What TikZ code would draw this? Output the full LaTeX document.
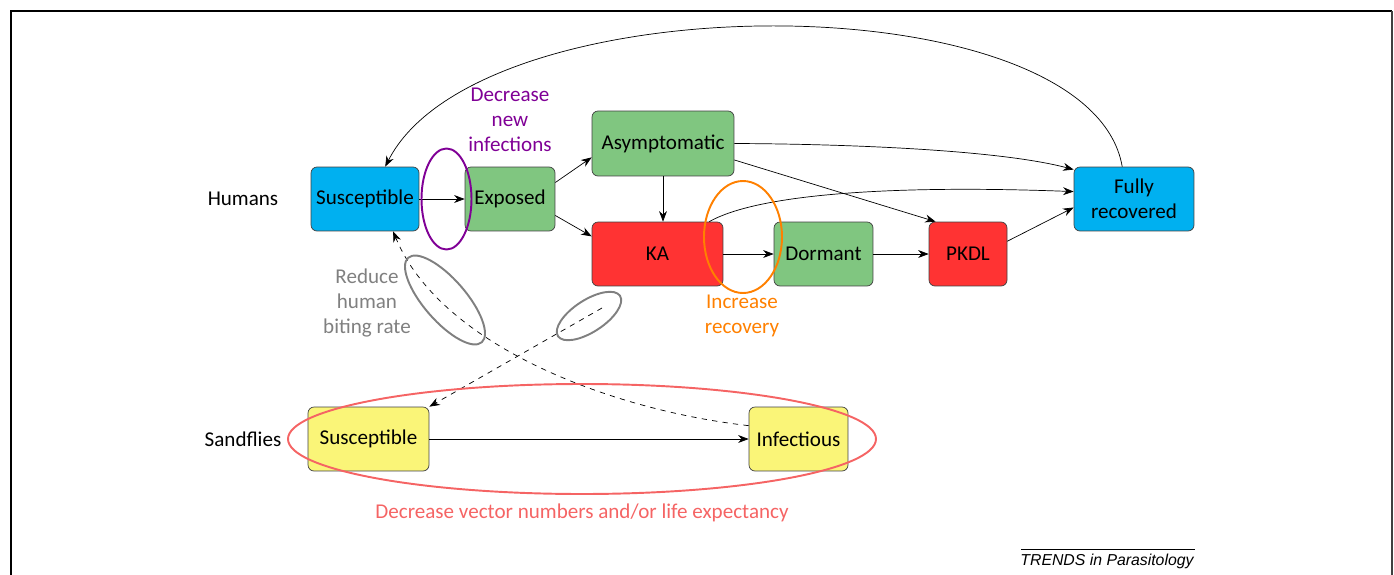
\documentclass[tikz,border=0pt]{standalone}
\usepackage{fontspec}
\setmainfont{Carlito}
\newfontfamily\journalfont{Liberation Sans}
\usetikzlibrary{arrows.meta}
\definecolor{humanblue}{RGB}{0,176,240}
\definecolor{stategreen}{RGB}{128,198,128}
\definecolor{statered}{RGB}{255,51,51}
\definecolor{flyyellow}{RGB}{250,245,120}
\definecolor{newpurple}{RGB}{128,0,150}
\definecolor{recorange}{RGB}{255,128,0}
\definecolor{bitegray}{RGB}{128,128,128}
\definecolor{vectorred}{RGB}{245,100,100}
\tikzset{
    state/.style={draw=black!75, rounded corners=3.4pt, minimum height=1.28cm, align=center, inner sep=2pt, font=\fontsize{12}{14.5}\selectfont},
    flow/.style={-{Stealth[length=6pt,width=4.5pt]}, thin},
    bite/.style={flow, dashed},
    target/.style={line width=1.1pt},
    note/.style={align=center, font=\fontsize{12}{14.2}\selectfont},
}

\begin{document}
\begin{tikzpicture}[x=0.02cm, y=-0.02cm]
        \useasboundingbox (0,0) rectangle (1394,575);
        %draw frame
        \draw[line width=0.8pt] (11,575) -- (11,11) -- (1392,11);
        \draw[line width=1.2pt, black!75] (1392,11) -- (1392,575);
        %row labels
        \node[note] (humans) at (243,199) {Humans};
        \node[note] (flies) at (243,439) {Sandflies};
        %human states
        \node[state, fill=humanblue, minimum width=2.16cm] (hS) at (365,199) {Susceptible};
        \node[state, fill=stategreen, minimum width=1.8cm] (hE) at (510,199) {Exposed};
        \node[state, fill=stategreen, minimum width=2.84cm, minimum height=1.3cm] (hA) at (663,143.5) {Asymptomatic};
        \node[state, fill=statered, minimum width=2.62cm] (hKA) at (657.5,254) {KA};
        \node[state, fill=stategreen, minimum width=1.98cm] (hD) at (823.5,254) {Dormant};
        \node[state, fill=statered, minimum width=1.56cm] (hP) at (968,254) {PKDL};
        \node[state, fill=humanblue, minimum width=2.4cm] (hR) at (1134,199) {Fully\\recovered};
        %sandfly states
        \node[state, fill=flyyellow, minimum width=2.42cm] (sS) at (368.5,439) {Susceptible};
        \node[state, fill=flyyellow, minimum width=1.98cm] (sI) at (798.5,439) {Infectious};
        \coordinate (bite) at (602,308);
        %human flows
        \draw[flow] (hS) -- (hE);
        \draw[flow] (hE.20) -- (hA.191);
        \draw[flow] (hE.-20) -- (hKA.165);
        \draw[flow] (hA.south) -- (hA.south |- hKA.north);
        \draw[flow] (hA.east) .. controls (850,144) and (1000,150) .. (hR.154);
        \draw[flow] (hA.-13) -- (hP.135);
        \draw[flow] (hKA.32) .. controls (760,193) and (900,185) .. (hR.173);
        \draw[flow] (hKA) -- (hD);
        \draw[flow] (hD) -- (hP);
        \draw[flow] (hP.18) -- (hR.188);
        \draw[flow] (hR.110) .. controls (1090,-20) and (480,-20) .. (hS.58);
        %sandfly flows
        \draw[flow] (sS) -- (sI);
        \draw[bite] (sI.165) .. controls (610,410) and (440,345) .. (hS.-49);
        \draw[bite] (bite) -- (sS.north east);
        %interventions
        \draw[target, newpurple] (446.5,199) ellipse [x radius=25, y radius=50.5];
        \node[note, text=newpurple] (newinf) at (510,120) {Decrease\\new\\infections};
        \draw[target, recorange] (743,237) ellipse [x radius=39, y radius=56];
        \node[note, text=recorange] (recov) at (742,315.5) {Increase\\recovery};
        \draw[target, bitegray, rotate around={-49:(445,300)}] (445,300) ellipse [x radius=56, y radius=21];
        \draw[target, bitegray, rotate around={33:(589,316)}] (589,316) ellipse [x radius=37, y radius=16];
        \node[note, text=bitegray] (biting) at (367,303) {Reduce\\human\\biting rate};
        \draw[target, vectorred] (582,439) ellipse [x radius=294, y radius=55];
        \node[note, text=vectorred] (vector) at (582,513) {Decrease vector numbers and/or life expectancy};
        %journal tag
        \draw[thin] (1021,549) -- (1195,549);
        \node[font=\journalfont\itshape\fontsize{9}{10}\selectfont] (journal) at (1107,561) {TRENDS in Parasitology};
    \end{tikzpicture}
\end{document}
